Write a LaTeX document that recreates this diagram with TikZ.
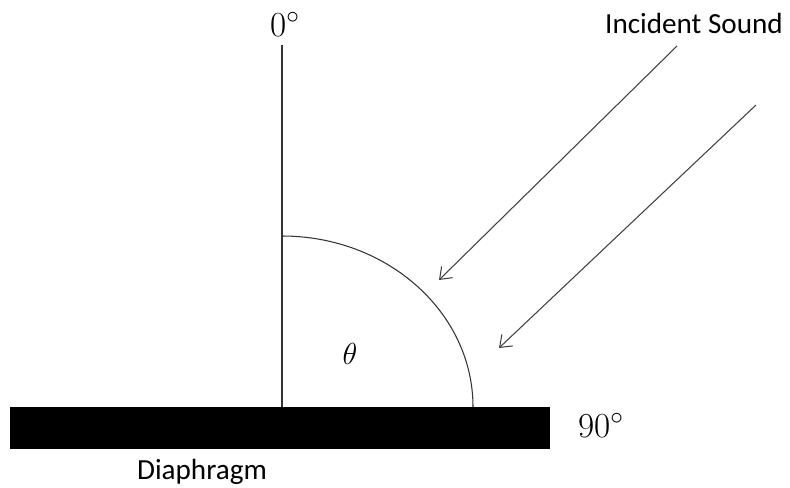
\documentclass[tikz,border=0pt]{standalone}
\usepackage{fontspec}
\setsansfont{Carlito}
\usetikzlibrary{arrows.meta}
\begin{document}
\begin{tikzpicture}[x=0.02cm, y=0.02cm,
  ray/.style={-{Straight Barb[length=6pt,width=9pt]}, line width=0.6pt, black!75},
  deg/.style={font=\fontsize{20}{22}\selectfont},
  caption/.style={font=\sffamily\fontsize{16.6}{19}\selectfont}]
\useasboundingbox (0,0) rectangle (790,487);
% diaphragm and normal
\fill (10,38) rectangle (550,80);
\draw[line width=0.6pt, black!80] (282,80) -- (282,442);
\draw[line width=0.6pt, black!80] (282,251) arc[start angle=90, end angle=0, x radius=191, y radius=171];
% incident rays
\coordinate (s1) at (677,441);
\coordinate (t1) at (439,207);
\coordinate (s2) at (756,382);
\coordinate (t2) at (499,139);
\draw[ray] (s1) -- (t1);
\draw[ray] (s2) -- (t2);
% labels
\node[deg] (zero) at (285,462) {0$^\circ$};
\node[deg] (ninety) at (601,61) {90$^\circ$};
\node[font=\fontsize{18}{20}\selectfont] (theta) at (350,133) {$\theta$};
\node[caption] (sound) at (694,464) {Incident Sound};
\node[caption] (diaph) at (202,15) {Diaphragm};
\end{tikzpicture}
\end{document}
